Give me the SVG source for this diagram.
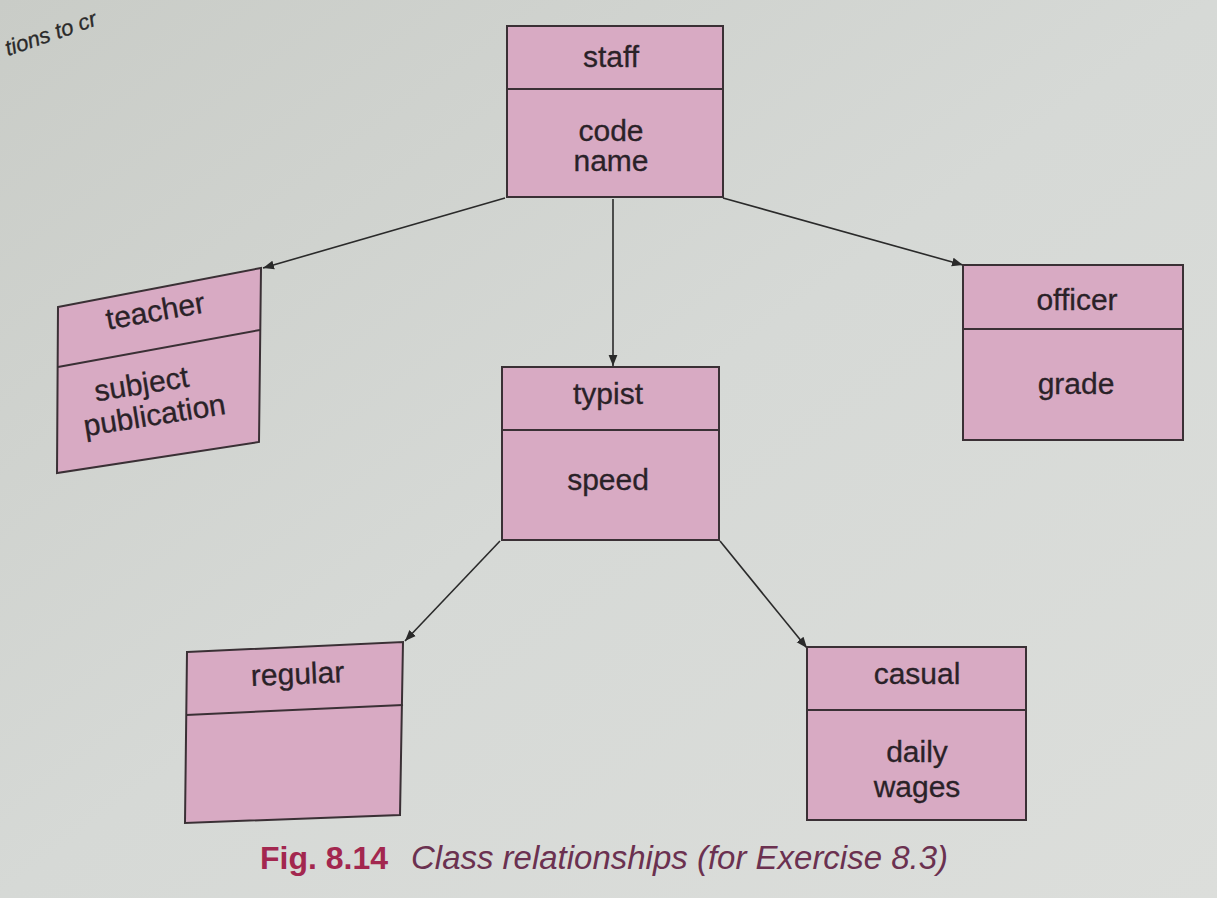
<svg xmlns="http://www.w3.org/2000/svg" width="1217" height="898" viewBox="0 0 1217 898">
<defs>
<linearGradient id="bg" x1="0" y1="0" x2="1" y2="1">
<stop offset="0" stop-color="#c9ccc7"/>
<stop offset="0.5" stop-color="#d6d9d6"/>
<stop offset="1" stop-color="#dcdedb"/>
</linearGradient>
<marker id="arr" viewBox="0 0 10 10" refX="10" refY="5" markerWidth="11" markerHeight="11" markerUnits="userSpaceOnUse" orient="auto">
<path d="M0,1 L10,5 L0,9 Z" fill="#2a2a2a"/>
</marker>
<style>
.box{fill:#d8aac3;stroke:#3a3035;stroke-width:2}
.div{stroke:#3a3035;stroke-width:2;fill:none}
.t{font-family:"Liberation Sans",Arial,sans-serif;font-size:30px;fill:#2a2228;text-anchor:middle;stroke:#2a2228;stroke-width:0.3}
.con{stroke:#2a2a2a;stroke-width:1.6;fill:none;marker-end:url(#arr)}
</style>
</defs>
<rect width="1217" height="898" fill="url(#bg)"/>
<text x="8" y="56" transform="rotate(-19 8 56)" style="font-family:'Liberation Sans',Arial,sans-serif;font-style:italic;font-size:22px;fill:#2a2a2a;stroke:#2a2a2a;stroke-width:0.3">tions to cr</text>

<g id="connectors">
<line class="con" x1="505" y1="198" x2="263" y2="268"/>
<line class="con" x1="613" y1="199" x2="613" y2="366"/>
<line class="con" x1="723" y1="198" x2="963" y2="265"/>
<line class="con" x1="500" y1="541" x2="405" y2="641"/>
<line class="con" x1="720" y1="541" x2="807" y2="648"/>
</g>

<g id="staff">
<rect class="box" x="507" y="26" width="216" height="171"/>
<line class="div" x1="507" y1="89" x2="723" y2="89"/>
<text class="t" x="611" y="67">staff</text>
<text class="t" x="611" y="141">code</text>
<text class="t" x="611" y="171">name</text>
</g>

<g id="teacher">
<polygon class="box" points="58,307 261,268 259,442 57,473"/>
<line class="div" x1="58" y1="367" x2="260" y2="330"/>
<text class="t" x="157" y="321" transform="rotate(-10 157 321)">teacher</text>
<text class="t" x="143" y="394" transform="rotate(-9 143 394)">subject</text>
<text class="t" x="156" y="425" transform="rotate(-9 156 425)">publication</text>
</g>

<g id="officer">
<rect class="box" x="963" y="265" width="220" height="175"/>
<line class="div" x1="963" y1="329" x2="1183" y2="329"/>
<text class="t" x="1077" y="310">officer</text>
<text class="t" x="1076" y="394">grade</text>
</g>

<g id="typist">
<rect class="box" x="502" y="367" width="217" height="173"/>
<line class="div" x1="502" y1="430" x2="719" y2="430"/>
<text class="t" x="608" y="404">typist</text>
<text class="t" x="608" y="490">speed</text>
</g>

<g id="regular">
<polygon class="box" points="187,652 403,642 400,815 185,823"/>
<line class="div" x1="186" y1="715" x2="403" y2="705"/>
<text class="t" x="298" y="684" transform="rotate(-2.5 298 684)">regular</text>
</g>

<g id="casual">
<rect class="box" x="807" y="647" width="219" height="173"/>
<line class="div" x1="807" y1="710" x2="1026" y2="710"/>
<text class="t" x="917" y="684">casual</text>
<text class="t" x="917" y="762">daily</text>
<text class="t" x="917" y="797">wages</text>
</g>

<g id="caption">
<text x="260" y="869" style="font-family:'Liberation Sans',Arial,sans-serif;font-size:32px;fill:#a3274f;font-weight:bold">Fig. 8.14</text>
<text x="411" y="869" textLength="537" lengthAdjust="spacingAndGlyphs" style="font-family:'Liberation Sans',Arial,sans-serif;font-size:33px;fill:#6b3150;font-style:italic">Class relationships (for Exercise 8.3)</text>
</g>
</svg>
